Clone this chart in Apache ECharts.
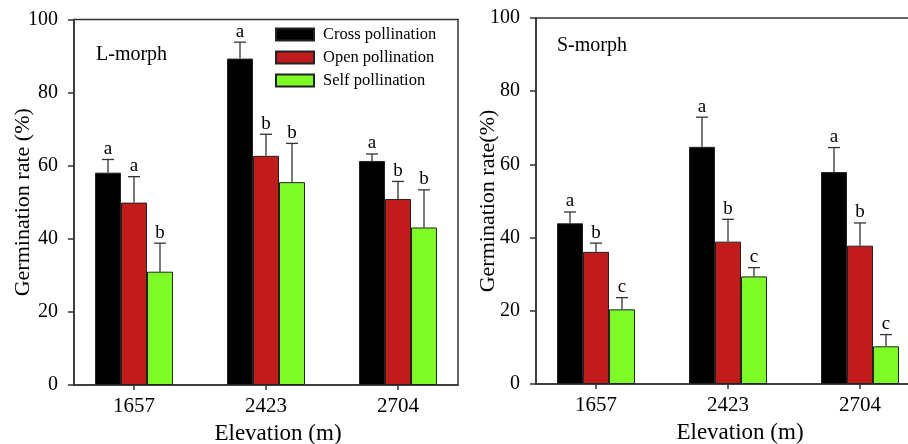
<!DOCTYPE html>
<html>
<head>
<meta charset="utf-8">
<script src="https://cdn.jsdelivr.net/npm/echarts@6/dist/echarts.min.js"></script>
<style>
html,body{margin:0;padding:0;background:#fff;}
#c{width:908px;height:444px;}
</style>
</head>
<body>
<div id="c"></div>
<script>
// ---- data ----
const categories = ['1657', '2423', '2704'];
const seriesNames = ['Cross pollination', 'Open pollination', 'Self pollination'];
const yTicks = [0, 20, 40, 60, 80, 100];

// L-morph (means and upper error, i.e. SE)
const lCross = [58.1, 89.3, 61.3];
const lCrossSE = [3.6, 4.5, 1.9];
const lOpen = [49.9, 62.7, 50.9];
const lOpenSE = [7.1, 5.9, 4.8];
const lSelf = [31.0, 55.5, 43.1];
const lSelfSE = [7.8, 10.6, 10.3];
const lCrossLetters = ['a', 'a', 'a'];
const lOpenLetters = ['a', 'b', 'b'];
const lSelfLetters = ['b', 'b', 'b'];

// S-morph
const sCross = [43.9, 64.8, 57.9];
const sCrossSE = [3.1, 8.1, 6.7];
const sOpen = [36.1, 38.9, 37.8];
const sOpenSE = [2.4, 6.1, 6.2];
const sSelf = [20.4, 29.4, 10.3];
const sSelfSE = [3.2, 2.4, 3.2];
const sCrossLetters = ['a', 'a', 'a'];
const sOpenLetters = ['b', 'b', 'b'];
const sSelfLetters = ['c', 'c', 'c'];

// ---- styling ----
const FONT = '"Liberation Serif", "Times New Roman", serif';
const COLORS = ['#000000', '#c21b1c', '#7dfc26'];
const BAR_W = 26;
const AXIS_COLOR = '#333';

const chart = echarts.init(document.getElementById('c'), null, {renderer: 'canvas'});

function pts(vals) { return vals.map((v, i) => [i, v]); }
function errPts(vals, se) { return vals.map((v, i) => [i, v, se[i]]); }

function errRender(slot, letters) {
  return function (params, api) {
    const x = api.value(0), v = api.value(1), e = api.value(2);
    const b = api.coord([x, v]);
    const t = api.coord([x, v + e]);
    const cx = b[0] + (slot - 1) * BAR_W;
    const ls = {stroke: '#333', lineWidth: 1.3};
    return {
      type: 'group',
      children: [
        {type: 'line', shape: {x1: cx, y1: b[1], x2: cx, y2: t[1]}, style: ls},
        {type: 'line', shape: {x1: cx - 6, y1: t[1], x2: cx + 6, y2: t[1]}, style: ls},
        {type: 'text', x: cx, y: t[1] - 1,
          style: {text: letters[params.dataIndex], font: '19px ' + FONT, fill: '#000',
            align: 'center', verticalAlign: 'bottom'}}
      ]
    };
  };
}

function xAxisCfg(gi) {
  return {
    type: 'value', gridIndex: gi, min: -60 / 132, max: 2 + 60 / 132,
    name: 'Elevation (m)', nameLocation: 'middle', nameGap: 37, nameMoveOverlap: false,
    nameTextStyle: {fontFamily: FONT, fontSize: 23, color: '#000', padding: [0, 0, 0, 24]},
    axisLine: {show: true, onZero: false, lineStyle: {color: AXIS_COLOR, width: 1.5}},
    axisTick: {show: true, inside: false, length: 5, customValues: [0, 1, 2],
      lineStyle: {color: AXIS_COLOR, width: 1.5}},
    axisLabel: {customValues: [0, 1, 2], formatter: v => categories[Math.round(v)],
      fontFamily: FONT, fontSize: 21, color: '#000', margin: 11},
    splitLine: {show: false}
  };
}
function yAxisCfg(gi, name, labelMargin, nameGap) {
  return {
    type: 'value', gridIndex: gi, min: 0, max: 100, interval: 20,
    name: name, nameLocation: 'middle', nameGap: nameGap, nameRotate: 90, nameMoveOverlap: false,
    nameTextStyle: {fontFamily: FONT, fontSize: 22, color: '#000'},
    axisLine: {show: true, onZero: false, lineStyle: {color: AXIS_COLOR, width: 1.5}},
    axisTick: {show: true, inside: false, length: 6, lineStyle: {color: AXIS_COLOR, width: 1.5}},
    axisLabel: {fontFamily: FONT, fontSize: 20, color: '#000', margin: labelMargin},
    splitLine: {show: false}
  };
}

function barSeries(name, vals, color, gi) {
  return {
    name: name, type: 'bar', xAxisIndex: gi, yAxisIndex: gi,
    data: pts(vals), barWidth: BAR_W, barGap: '0%',
    itemStyle: {color: color, borderColor: '#222', borderWidth: 1},
    emphasis: {disabled: true}, animation: false
  };
}
function errSeries(vals, se, slot, letters, gi) {
  return {
    name: 'err', type: 'custom', xAxisIndex: gi, yAxisIndex: gi,
    data: errPts(vals, se), encode: {x: 0, y: 1},
    renderItem: errRender(slot, letters), z: 5, animation: false, silent: true
  };
}

const option = {
  animation: false,
  backgroundColor: '#fff',
  title: [
    {text: 'L-morph', left: 91, top: 40,
      textStyle: {fontFamily: FONT, fontSize: 20, fontWeight: 'normal', color: '#000'}},
    {text: 'S-morph', left: 552, top: 31,
      textStyle: {fontFamily: FONT, fontSize: 20, fontWeight: 'normal', color: '#000'}}
  ],
  legend: {
    data: seriesNames, orient: 'vertical', left: 270, top: 21, icon: 'rect',
    itemWidth: 38, itemHeight: 12, itemGap: 6, selectedMode: false,
    textStyle: {fontFamily: FONT, fontSize: 16.5, color: '#000', padding: [0, 0, 0, 4]}
  },
  grid: [
    {left: 74, top: 19.5, width: 384, height: 365.5, show: true, borderColor: AXIS_COLOR,
      borderWidth: 1.5, backgroundColor: 'transparent', containLabel: false, outerBoundsMode: 'none'},
    {left: 536, top: 18, width: 384, height: 366, show: true, borderColor: AXIS_COLOR,
      borderWidth: 1.5, backgroundColor: 'transparent', containLabel: false, outerBoundsMode: 'none'}
  ],
  xAxis: [xAxisCfg(0), xAxisCfg(1)],
  yAxis: [yAxisCfg(0, 'Germination rate (%)', 16, 40), yAxisCfg(1, 'Germination rate(%)', 16, 37)],
  series: [
    barSeries(seriesNames[0], lCross, COLORS[0], 0),
    barSeries(seriesNames[1], lOpen, COLORS[1], 0),
    barSeries(seriesNames[2], lSelf, COLORS[2], 0),
    barSeries(seriesNames[0], sCross, COLORS[0], 1),
    barSeries(seriesNames[1], sOpen, COLORS[1], 1),
    barSeries(seriesNames[2], sSelf, COLORS[2], 1),
    errSeries(lCross, lCrossSE, 0, lCrossLetters, 0),
    errSeries(lOpen, lOpenSE, 1, lOpenLetters, 0),
    errSeries(lSelf, lSelfSE, 2, lSelfLetters, 0),
    errSeries(sCross, sCrossSE, 0, sCrossLetters, 1),
    errSeries(sOpen, sOpenSE, 1, sOpenLetters, 1),
    errSeries(sSelf, sSelfSE, 2, sSelfLetters, 1)
  ]
};
chart.setOption(option);
</script>
</body>
</html>
